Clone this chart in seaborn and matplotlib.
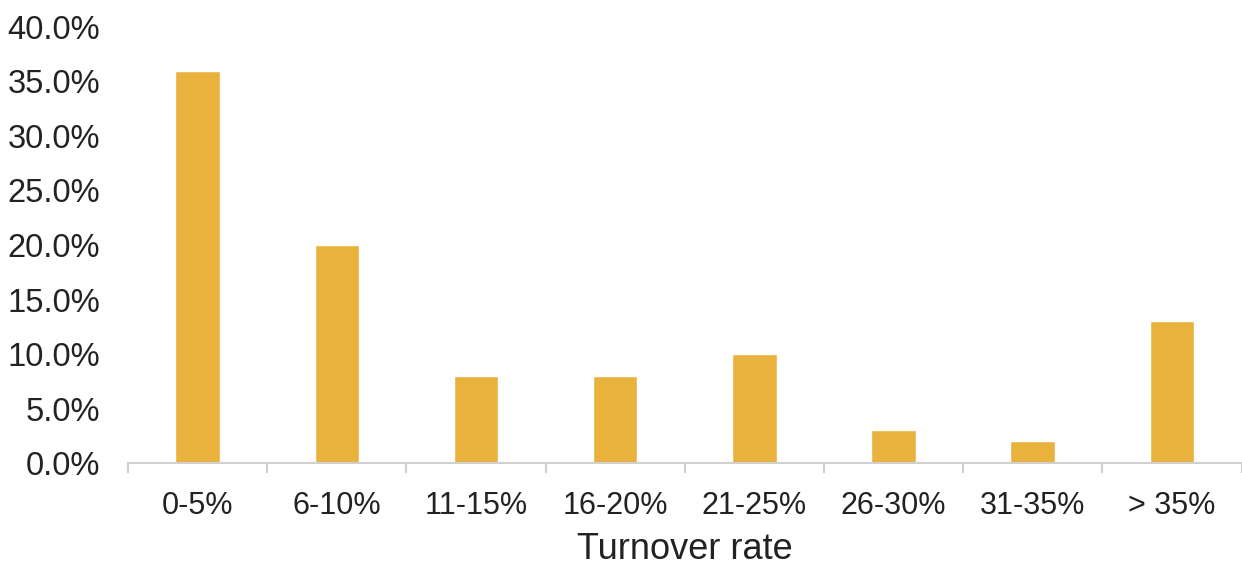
import matplotlib
matplotlib.use("Agg")
import matplotlib.pyplot as plt
import seaborn as sns
import pandas as pd
from matplotlib.ticker import FixedLocator, PercentFormatter

categories = ["0-5%", "6-10%", "11-15%", "16-20%", "21-25%", "26-30%", "31-35%", "> 35%"]
shares = [36.0, 20.0, 8.0, 8.0, 10.0, 3.0, 2.0, 13.0]

sns.set_style("white")
plt.rcParams["font.family"] = ["Liberation Sans", "DejaVu Sans"]

df = pd.DataFrame({"bucket": categories, "share": shares})

fig = plt.figure(figsize=(12.42, 5.67), dpi=100)
ax = fig.add_axes([0.1031, 0.1834, 0.8965, 0.769])

sns.barplot(data=df, x="bucket", y="share", color="#E8B23D", saturation=1,
            width=0.32, ax=ax)

ax.set_xlim(-0.5, len(categories) - 0.5)
ax.set_ylim(0, 40)
ax.set_yticks([0, 5, 10, 15, 20, 25, 30, 35, 40])
ax.yaxis.set_major_formatter(PercentFormatter(decimals=1))

for side in ["top", "right", "left"]:
    ax.spines[side].set_visible(False)
ax.spines["bottom"].set_color("#D0D0D0")
ax.spines["bottom"].set_linewidth(1.5)

# category separators on the x axis
ax.xaxis.set_minor_locator(FixedLocator([i - 0.5 for i in range(len(categories) + 1)]))
ax.tick_params(axis="x", which="minor", bottom=True, length=7, width=1.5,
               color="#D0D0D0", direction="out")
ax.tick_params(axis="x", which="major", bottom=True, length=0, pad=20.5,
               labelsize=22, labelcolor="#222222")
ax.tick_params(axis="y", left=True, length=0, pad=20, labelsize=23.5, labelcolor="#222222")

ax.set_xlabel("Turnover rate", fontsize=26, color="#222222", labelpad=7.5)
ax.set_ylabel("")

fig.savefig("out.png", dpi=100)
